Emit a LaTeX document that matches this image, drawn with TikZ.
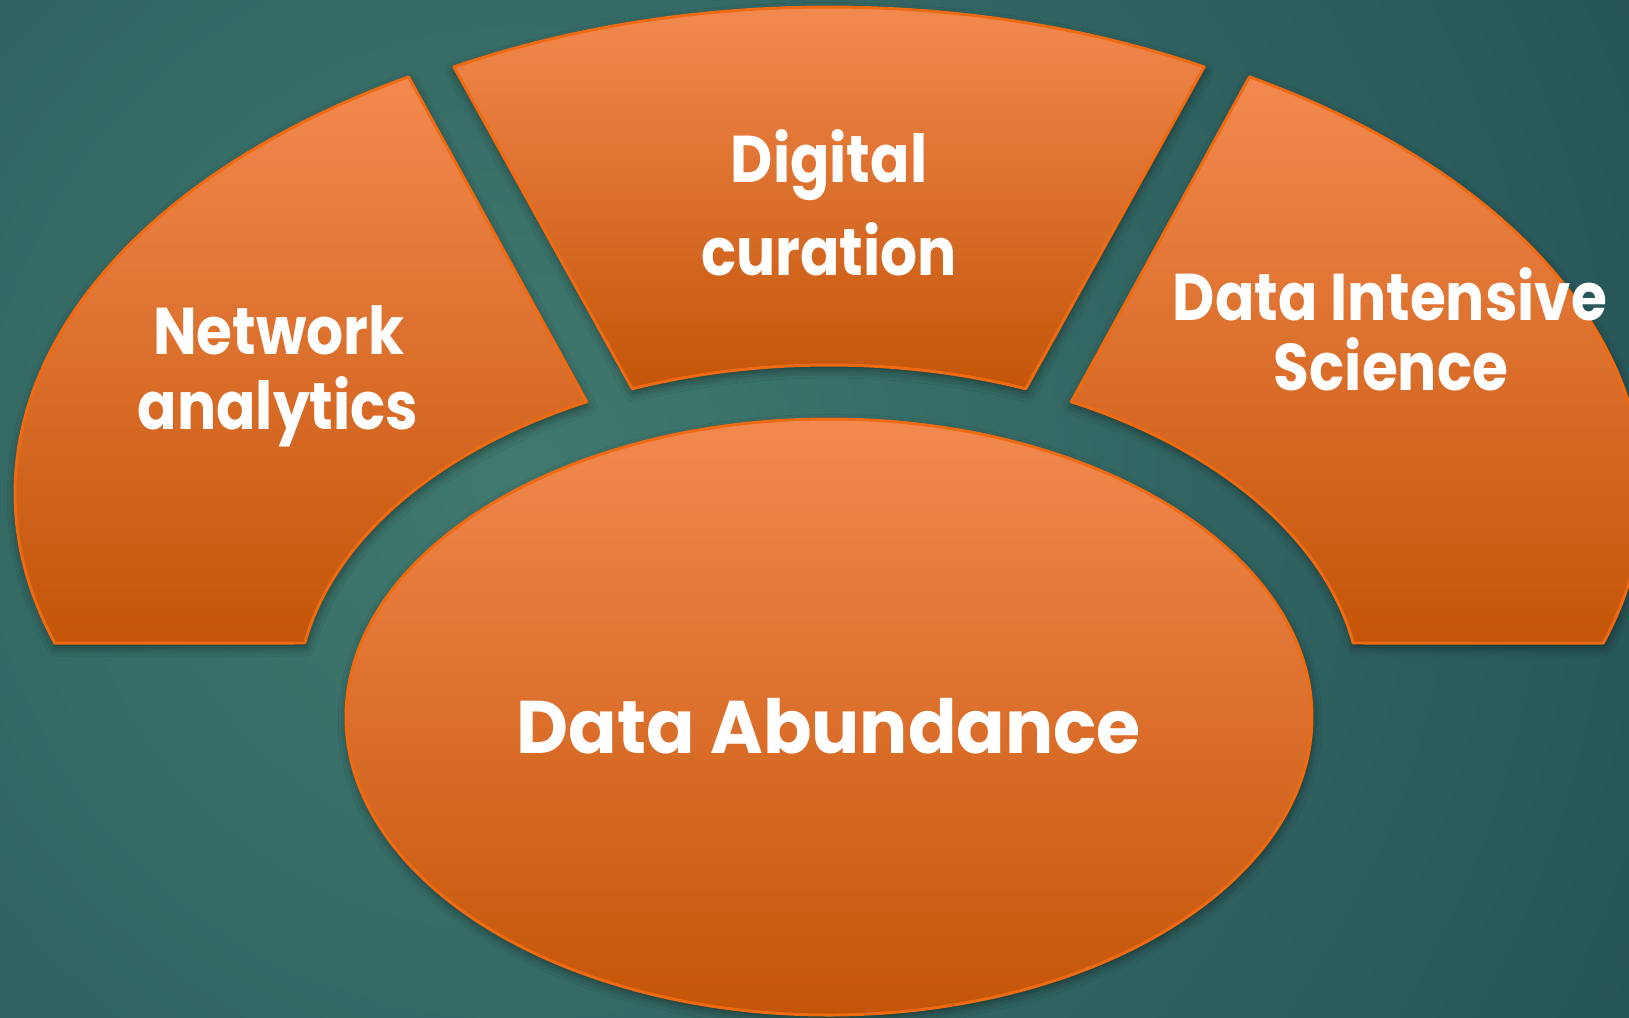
\documentclass[tikz,border=0pt]{standalone}
\usepackage{fontspec}
\setmainfont{Poppins}
\newfontfamily\lblfont{Poppins}[FakeStretch=0.88]
\newfontfamily\bigfont{Poppins}[FakeStretch=0.96]
\usetikzlibrary{shadows.blur}
\definecolor{bgin}{HTML}{40796E}
\definecolor{bgout}{HTML}{1D4850}
\definecolor{orTop}{HTML}{F2894F}
\definecolor{orBot}{HTML}{C45508}
\definecolor{orLine}{HTML}{F06A12}
\pgfdeclareradialshading{bgshade}{\pgfpoint{0bp}{0bp}}{color(0bp)=(bgin); color(16bp)=(bgout); color(50bp)=(bgout)}
\begin{document}
\begin{tikzpicture}[x=0.01cm, y=-0.01cm,
  seg/.style={draw=orLine, line width=0.85pt, top color=orTop, bottom color=orBot, line join=round,
    blur shadow={shadow xshift=0.3pt, shadow yshift=-1.2pt, shadow blur radius=2.5pt, shadow opacity=45}},
  lbl/.style={text=white, font=\lblfont\bfseries\fontsize{18.8}{20}\selectfont, anchor=base, inner sep=0pt},
  big/.style={lbl, font=\bigfont\bfseries\fontsize{21.2}{24}\selectfont}]
\useasboundingbox (0,0) rectangle (1629,1017);
\begin{scope}
\clip (0,0) rectangle (1629,1017);
\fill[bgout] (0,0) rectangle (1629,1017);
\shade[shading=bgshade] (520,480) circle (2500);
% left segment
\path[seg] plot[domain=238.9:162, samples=70] ({829+814*cos(\x)},{493+486*sin(\x)})
  -- plot[domain=189.8:242.9, samples=50] ({829+532*cos(\x)},{700+335*sin(\x)}) -- cycle;
% right segment
\path[seg] plot[domain=-58.9:18, samples=70] ({829+814*cos(\x)},{493+486*sin(\x)})
  -- plot[domain=-9.8:-62.9, samples=50] ({829+532*cos(\x)},{700+335*sin(\x)}) -- cycle;
% top segment
\path[seg] plot[domain=241.25:298.75, samples=70] ({829+780*cos(\x)},{493+486*sin(\x)})
  -- plot[domain=291.7:248.3, samples=50] ({829+532*cos(\x)},{700+335*sin(\x)}) -- cycle;
% central ellipse
\path[seg] (829,717) ellipse [x radius=483, y radius=298];
\end{scope}
\node[lbl] (net1) at (279,354) {Network};
\node[lbl] (net2) at (278,429) {analytics};
\node[lbl] (dig1) at (829,182) {Digital};
\node[lbl] (dig2) at (829,275) {curation};
\node[lbl] (dis1) at (1390,320) {Data Intensive};
\node[lbl] (dis2) at (1391,390) {Science};
\node[big] (abund) at (829,753) {Data Abundance};
\end{tikzpicture}
\end{document}
